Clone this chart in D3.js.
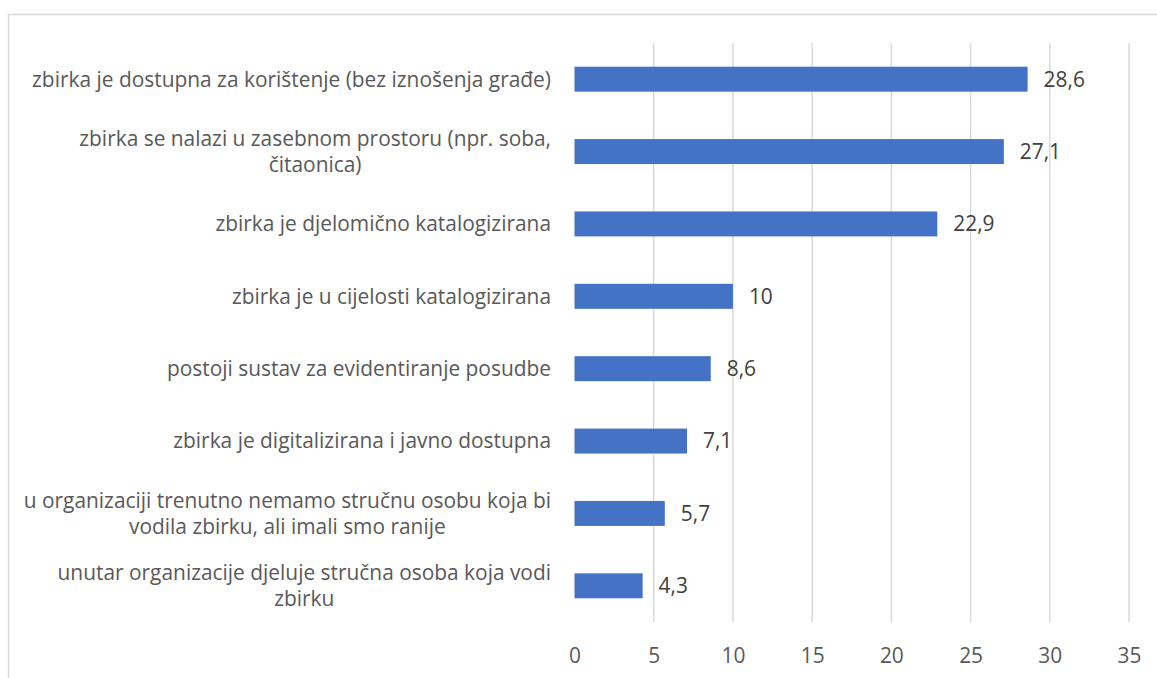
<!DOCTYPE html>
<html>
<head>
<meta charset="utf-8">
<script src="https://cdn.jsdelivr.net/npm/d3@7"></script>
<style>
  body { margin: 0; background: #fff; }
  text { font-family: "Open Sans", sans-serif; }
</style>
</head>
<body>
<div id="chart"></div>
<script>
// data, top to bottom
var categories = [
    "zbirka je dostupna za korištenje (bez iznošenja građe)",
    "zbirka se nalazi u zasebnom prostoru (npr. soba, čitaonica)",
    "zbirka je djelomično katalogizirana",
    "zbirka je u cijelosti katalogizirana",
    "postoji sustav za evidentiranje posudbe",
    "zbirka je digitalizirana i javno dostupna",
    "u organizaciji trenutno nemamo stručnu osobu koja bi vodila zbirku, ali imali smo ranije",
    "unutar organizacije djeluje stručna osoba koja vodi zbirku"
];
var values = [28.6, 27.1, 22.9, 10, 8.6, 7.1, 5.7, 4.3];
var xTicks = [0, 5, 10, 15, 20, 25, 30, 35];

var width = 1157;
var height = 678;
var fontSize = 20.9;

var svg = d3.select("#chart")
    .append("svg")
    .attr("width", width)
    .attr("height", height);

// chart frame (runs off right and bottom edge)
svg.append("rect")
    .attr("x", 8.5).attr("y", 14.5)
    .attr("width", 1200).attr("height", 700)
    .attr("fill", "none")
    .attr("stroke", "#d9d9d9")
    .attr("stroke-width", 1.5);

var x = d3.scaleLinear()
    .domain([0, 35])
    .range([574.5, 1129]);

var y = d3.scaleBand()
    .domain(categories)
    .range([43, 622])
    .paddingInner(0.655)
    .paddingOuter(0.3275);

// gridlines
svg.selectAll(".grid")
    .data(xTicks.filter(function(d) { return d > 0; }))
    .enter().append("line")
    .attr("class", "grid")
    .attr("x1", function(d) { return x(d); })
    .attr("x2", function(d) { return x(d); })
    .attr("y1", 43)
    .attr("y2", 622)
    .attr("stroke", "#d9d9d9")
    .attr("stroke-width", 1.5);

// bars
svg.selectAll(".bar")
    .data(values)
    .enter().append("rect")
    .attr("class", "bar")
    .attr("x", x(0))
    .attr("y", function(d, i) { return y(categories[i]); })
    .attr("width", function(d) { return x(d) - x(0); })
    .attr("height", y.bandwidth())
    .attr("fill", "#4472c4");

// value labels
svg.selectAll(".val")
    .data(values)
    .enter().append("text")
    .attr("class", "val")
    .attr("x", function(d) { return x(d) + 16; })
    .attr("y", function(d, i) { return y(categories[i]) + y.bandwidth() / 2; })
    .attr("dy", "0.35em")
    .attr("font-size", fontSize)
    .attr("fill", "#404040")
    .text(function(d) { return String(d).replace(".", ","); });

// x axis tick labels
var xAxis = svg.append("g")
    .attr("transform", "translate(0,622)")
    .call(d3.axisBottom(x).tickValues(xTicks).tickSize(0).tickPadding(26));
xAxis.select(".domain").remove();
xAxis.selectAll("text")
    .attr("font-size", fontSize)
    .attr("fill", "#595959")
    .style("font-family", "'Open Sans', sans-serif");

// category labels, wrapped and centred like Excel does
var labelRight = 551;
var lineH = 26;
var measure = svg.append("text").attr("font-size", fontSize);

function textW(s) {
    measure.text(s);
    return measure.node().getComputedTextLength();
}

// wrap width: a little wider than the longest one-line label
var maxW = textW(categories[0]) * 1.03;

function wrap(str) {
    var words = str.split(" ");
    var lines = [];
    var cur = "";
    words.forEach(function(w) {
        var test = cur ? cur + " " + w : w;
        if (cur && textW(test) > maxW) {
            lines.push(cur);
            cur = w;
        } else {
            cur = test;
        }
    });
    lines.push(cur);
    return lines;
}

categories.forEach(function(c) {
    var lines = wrap(c);
    var widths = lines.map(textW);
    var cx = labelRight - d3.max(widths) / 2;
    var cy = y(c) + y.bandwidth() / 2;
    var t = svg.append("text")
        .attr("font-size", fontSize)
        .attr("fill", "#595959")
        .attr("text-anchor", "middle");
    lines.forEach(function(l, i) {
        t.append("tspan")
            .attr("x", cx)
            .attr("y", cy + (i - (lines.length - 1) / 2) * lineH)
            .attr("dy", "0.35em")
            .text(l);
    });
});
measure.remove();
</script>
</body>
</html>
